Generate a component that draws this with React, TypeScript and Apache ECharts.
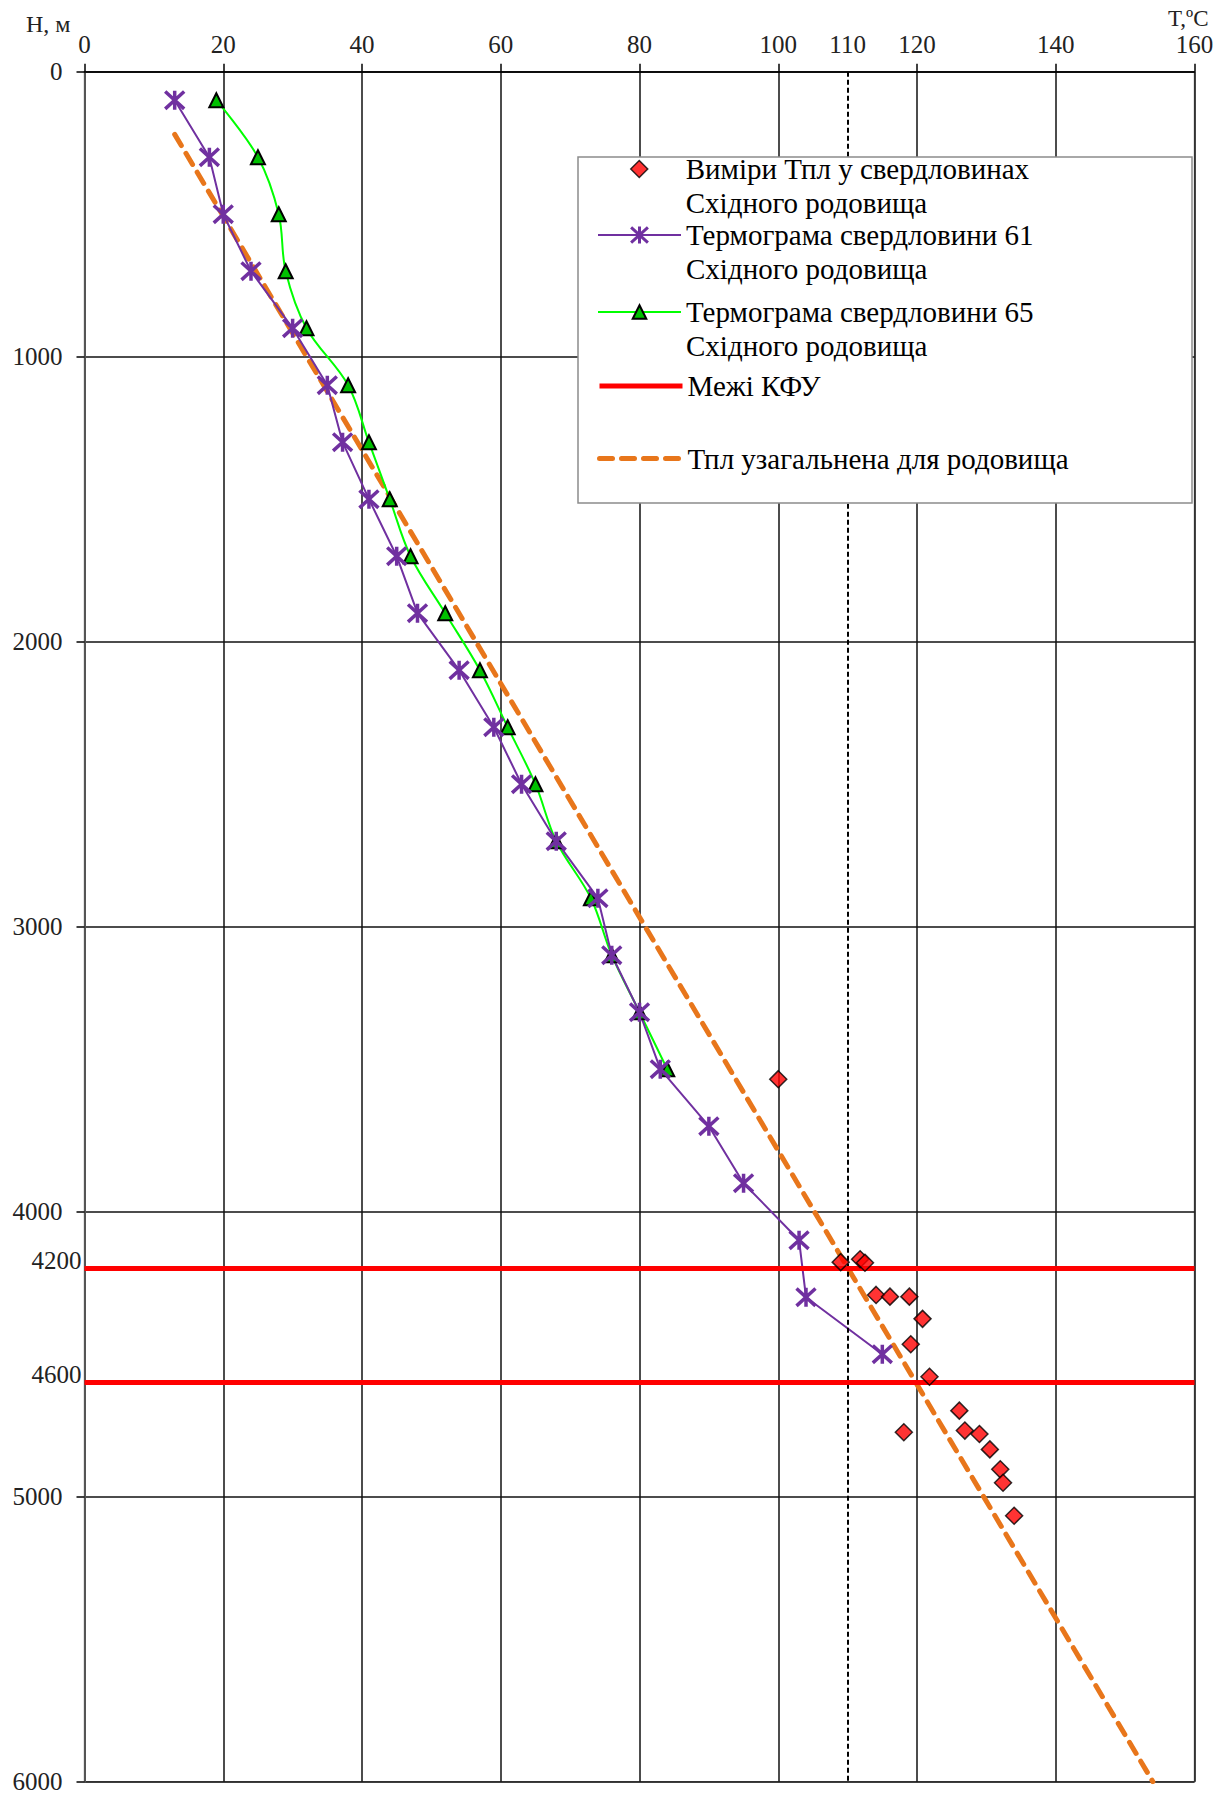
import React, { useEffect, useRef } from "react";
import * as echarts from "echarts";

// Well 61 thermogram (depth, m / temperature, °C)
const depth61 = [100, 300, 500, 700, 900, 1100, 1300, 1500, 1700, 1900, 2100, 2300, 2500, 2700, 2900, 3100, 3300, 3500, 3700, 3900, 4100, 4300, 4500];
const temp61 = [13, 18, 20, 24, 30, 35, 37.2, 41, 45, 48, 54, 59, 63, 68, 74, 76, 80, 83, 90, 95, 103, 104, 115];

// Well 65 thermogram
const depth65 = [100, 300, 500, 700, 900, 1100, 1300, 1500, 1700, 1900, 2100, 2300, 2500, 2700, 2900, 3100, 3300, 3500];
const temp65 = [19, 25, 28, 29, 32, 38, 41, 44, 47, 52, 57, 61, 65, 68, 73, 76, 80, 84];

// Reservoir temperature measurements
const measuredTemp = [100, 109, 111.8, 112.5, 114.1, 116.1, 118.9, 120.8, 119.1, 121.8, 126.1, 118.1, 126.9, 129, 130.5, 132, 132.4, 134];
const measuredDepth = [3535, 4177, 4167, 4179, 4292, 4298, 4298, 4376, 4465, 4579, 4698, 4774, 4768, 4780, 4834, 4904, 4951, 5067];

// Generalised reservoir temperature line
const trendTemp = [13, 154];
const trendDepth = [220, 6000];

// Boundaries and reference temperature
const kfuDepths = [4200, 4600];
const refTemp = 110;

const xAxisTitle = "T,ºC";
const yAxisTitle = "Н, м";

const seriesNames = [
  "Виміри Тпл у свердловинах",
  "Термограма свердловини 61",
  "Термограма свердловини 65",
  "Межі КФУ",
  "Тпл узагальнена для родовища",
];
const legendLabels = [
  "\nВиміри Тпл у свердловинах\nСхідного родовища",
  "\nТермограма свердловини 61\nСхідного родовища",
  "\nТермограма свердловини 65\nСхідного родовища",
  "Межі КФУ",
  "Тпл узагальнена для родовища",
];

const FONT = "'Liberation Serif', 'Times New Roman', serif";
const PURPLE = "#7030A0";
const GREEN_LINE = "#00FF00";
const GREEN_FILL = "#00C000";
const RED = "#FF0000";
const ORANGE = "#E8761B";
const STAR = "path://M0,0 L20,20 M0,20 L20,0 M10,-1 L10,21";
const DIAMOND_ICON = "path://M10,0 L20,10 L10,20 L0,10 Z";

function pairs(xs: number[], ys: number[]) {
  return xs.map((x, i) => [x, ys[i]]);
}

export default function App() {
  const ref = useRef<HTMLDivElement>(null);

  useEffect(() => {
    if (!ref.current) return;
    const chart = echarts.init(ref.current, undefined, { renderer: "svg" });

    const legendBase = {
      orient: "vertical",
      align: "left",
      padding: 0,
      itemWidth: 83,
      itemGap: 0,
      z: 10,
      selectedMode: false,
      symbolKeepAspect: true,
      textStyle: { fontFamily: FONT, fontSize: 29, lineHeight: 34, color: "#000" },
    };
    const legendLefts = [630, 597, 597, 597, 597];
    const legendTops = [118, 184, 261, 369, 441.5];
    const legendItemStyles: any[] = [
      { icon: DIAMOND_ICON, itemStyle: { color: RED, borderColor: "#000", borderWidth: 1.5 } },
      { itemStyle: { color: PURPLE, borderColor: PURPLE, borderWidth: 3 }, lineStyle: { color: PURPLE, width: 2 } },
      { itemStyle: { color: GREEN_FILL, borderColor: "#000", borderWidth: 2 }, lineStyle: { color: GREEN_LINE, width: 2 } },
      { itemStyle: { color: "rgba(0,0,0,0)", borderColor: "rgba(0,0,0,0)", borderWidth: 0 }, lineStyle: { color: RED, width: 5 } },
      { itemStyle: { color: "rgba(0,0,0,0)", borderColor: "rgba(0,0,0,0)", borderWidth: 0 }, lineStyle: { color: ORANGE, width: 5, type: [13, 9], cap: "round" } },
    ];
    const itemHeights = [17, 21, 17, 17, 17];

    const legends = seriesNames.map((name, i) => ({
      ...legendBase,
      left: legendLefts[i],
      top: legendTops[i],
      itemHeight: itemHeights[i],
      data: [{ name, ...legendItemStyles[i] }],
      formatter: () => legendLabels[i],
    }));

    const option: any = {
      animation: false,
      backgroundColor: "#fff",
      textStyle: { fontFamily: FONT },
      grid: {
        left: 84.5,
        top: 71.7,
        width: 1110,
        height: 1710,
        containLabel: false,
        outerBoundsMode: "none",
        show: true,
        borderColor: "#999",
        borderWidth: 1.5,
      },
      xAxis: {
        type: "value",
        position: "top",
        min: 0,
        max: 160,
        interval: 20,
        axisLine: { show: true, lineStyle: { color: "#000", width: 1.5 } },
        axisTick: { show: true, length: 8, lineStyle: { color: "#000", width: 1.5 } },
        axisLabel: {
          fontFamily: FONT,
          fontSize: 25,
          color: "#222",
          margin: 18,
          lineHeight: 18,
          formatter: (v: number) => String(v),
        },
        splitLine: { show: true, lineStyle: { color: "#111", width: 1.5 } },
      },
      yAxis: {
        type: "value",
        inverse: true,
        min: 0,
        max: 6000,
        interval: 1000,
        name: yAxisTitle,
        nameLocation: "start",
        nameGap: 36,
        nameTextStyle: {
          fontFamily: FONT,
          fontSize: 24,
          color: "#222",
          align: "right",
          verticalAlign: "bottom",
          padding: [0, 14, 0, 0],
        },
        axisLine: { show: true, lineStyle: { color: "#555", width: 2 } },
        axisTick: { show: true, length: 8, lineStyle: { color: "#000", width: 1.5 } },
        axisLabel: { fontFamily: FONT, fontSize: 25, color: "#222", margin: 22, formatter: (v: number) => String(v) },
        splitLine: { show: true, lineStyle: { color: "#111", width: 1.5 } },
      },
      legend: legends,
      graphic: [
        {
          type: "rect",
          z: 8,
          shape: { x: 578, y: 157, width: 614, height: 346 },
          style: { fill: "#fff", stroke: "#8c8c8c", lineWidth: 1.5 },
        },
        {
          type: "text",
          z: 8,
          left: 1168,
          top: 7,
          style: { text: xAxisTitle, font: `23px ${FONT}`, lineHeight: 16, fill: "#222" },
        },
      ],
      series: [
        {
          name: "ref110",
          type: "line",
          data: [],
          z: 1,
          markLine: {
            silent: true,
            symbol: ["none", "none"],
            lineStyle: { color: "#000", width: 2, type: [5, 3] },
            label: {
              show: true,
              position: "start",
              formatter: String(refTemp),
              fontFamily: FONT,
              fontSize: 25,
              color: "#222",
              distance: 15,
            },
            data: [{ xAxis: refTemp }],
          },
        },
        {
          name: seriesNames[3],
          type: "line",
          data: [],
          symbol: "none",
          itemStyle: { color: "rgba(0,0,0,0)" },
          lineStyle: { color: RED, width: 5 },
          z: 2,
          markLine: {
            silent: true,
            symbol: ["none", "none"],
            lineStyle: { color: RED, width: 5, type: "solid" },
            label: {
              show: true,
              position: "start",
              formatter: (p: any) => String(p.value),
              fontFamily: FONT,
              fontSize: 25,
              color: "#222",
              distance: 3,
              verticalAlign: "bottom",
              lineHeight: 16,
            },
            data: kfuDepths.map((v) => ({ yAxis: v })),
          },
        },
        {
          name: seriesNames[4],
          type: "line",
          data: pairs(trendTemp, trendDepth),
          symbol: "none",
          itemStyle: { color: "rgba(0,0,0,0)" },
          lineStyle: { color: ORANGE, width: 5, type: [13, 9], cap: "round" },
          z: 3,
        },
        {
          name: seriesNames[2],
          type: "line",
          data: pairs(temp65, depth65),
          smooth: 0.35,
          symbol: "triangle",
          symbolSize: 14,
          itemStyle: { color: GREEN_FILL, borderColor: "#000", borderWidth: 2 },
          lineStyle: { color: GREEN_LINE, width: 2 },
          z: 4,
        },
        {
          name: seriesNames[1],
          type: "line",
          data: pairs(temp61, depth61),
          symbol: STAR,
          symbolSize: 19,
          itemStyle: { color: PURPLE, borderColor: PURPLE, borderWidth: 3.5 },
          lineStyle: { color: PURPLE, width: 2 },
          z: 4,
        },
        {
          name: seriesNames[0],
          type: "scatter",
          data: pairs(measuredTemp, measuredDepth),
          symbol: "diamond",
          symbolKeepAspect: true,
          symbolSize: 17,
          itemStyle: { color: RED, borderColor: "#000", borderWidth: 1.5 },
          z: 5,
        },
      ],
    };

    chart.setOption(option);
    return () => chart.dispose();
  }, []);

  return (
    <div
      ref={ref}
      style={{ position: "absolute", left: 0, top: 0, width: 1219, height: 1794 }}
    />
  );
}
